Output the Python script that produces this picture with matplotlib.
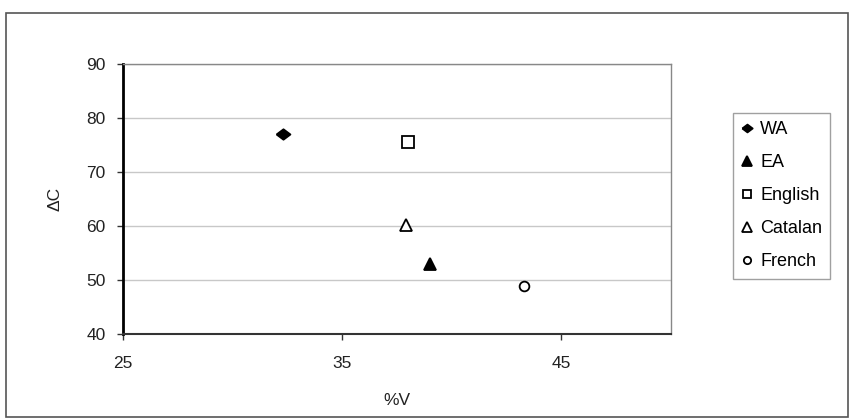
import matplotlib.pyplot as plt
from matplotlib.patches import Rectangle

plt.rcParams['font.family'] = ['Liberation Sans', 'DejaVu Sans']

# data
labels = ['WA', 'EA', 'English', 'Catalan', 'French']
pct_v = [32.3, 39.0, 38.0, 37.9, 43.3]
delta_c = [77.0, 53.0, 75.6, 60.2, 48.8]
filled = [True, True, False, False, False]

x_ticks = [25, 35, 45]
y_ticks = [40, 50, 60, 70, 80, 90]

# wide diamond like the spreadsheet marker
wide_diamond = [(-1, 0), (0, 0.75), (1, 0), (0, -0.75), (-1, 0)]
markers = [wide_diamond, '^', 's', '^', 'o']
sizes = [10, 9, 8.5, 9, 7]

fig = plt.figure(figsize=(8.52, 4.2), dpi=100)
ax = fig.add_axes([0.1444, 0.2048, 0.6432, 0.6429])

for lab, x, y, m, f, s in zip(labels, pct_v, delta_c, markers, filled, sizes):
    ax.plot(x, y, linestyle='none', marker=m, markersize=s,
            markerfacecolor='black' if f else 'white', markeredgecolor='black',
            markeredgewidth=1.3, label=lab, zorder=3)

ax.set_xlim(25, 50)
ax.set_ylim(40, 90)
ax.set_xticks(x_ticks)
ax.set_yticks(y_ticks)
ax.yaxis.grid(True, color='#c8c8c8', linewidth=1)
ax.set_axisbelow(True)

for side in ['top', 'right']:
    ax.spines[side].set_color('#888888')
    ax.spines[side].set_linewidth(1)
ax.spines['left'].set_color('black')
ax.spines['left'].set_linewidth(2)
ax.spines['bottom'].set_color('#333333')
ax.spines['bottom'].set_linewidth(1.5)

ax.tick_params(axis='both', labelsize=12.5, length=4.5, width=1, colors='#333333',
               labelcolor='#222222')
ax.tick_params(axis='x', pad=11)
ax.tick_params(axis='y', pad=8)

ax.set_xlabel('%V', fontsize=12.5, color='#222222', labelpad=16)
ax.set_ylabel('ΔC', fontsize=12.5, color='#222222', labelpad=17)

leg = ax.legend(loc='upper left', bbox_to_anchor=(733 / 852, 1 - 113 / 420),
                bbox_transform=fig.transFigure, borderaxespad=0,
                frameon=True, fancybox=False, edgecolor='#888888', fontsize=13,
                labelspacing=0.89, handlelength=0.6, handletextpad=0.45,
                borderpad=0.45, markerscale=0.75)
leg.get_frame().set_linewidth(1)

fig.patches.append(Rectangle((6 / 852, 3 / 420), 842 / 852, 404 / 420,
                             transform=fig.transFigure, fill=False,
                             edgecolor='#555555', linewidth=1.2))

fig.savefig('out.png', dpi=100)
